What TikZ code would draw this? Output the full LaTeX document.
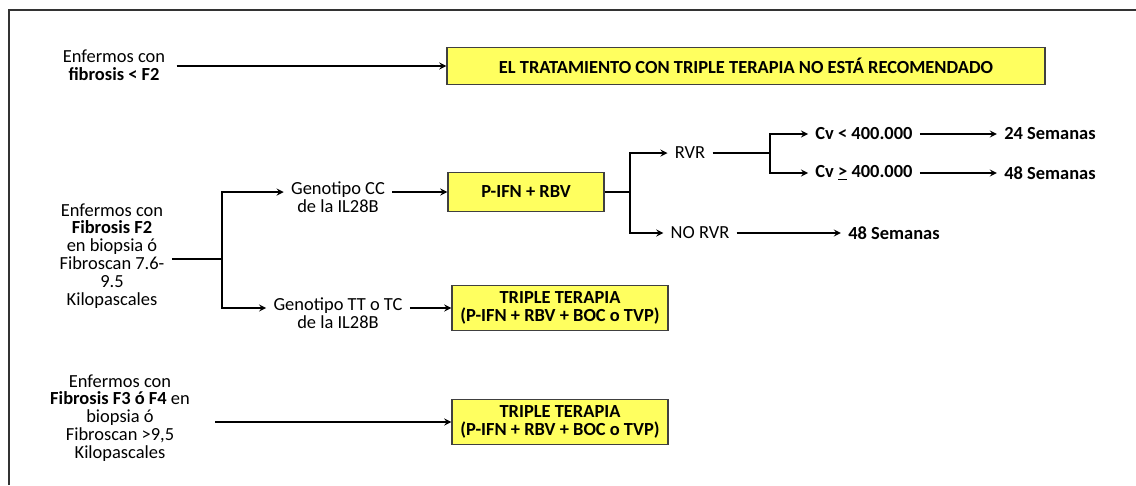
\documentclass[tikz,border=0pt]{standalone}
\usepackage{fontspec}
\setmainfont{Carlito}
\usetikzlibrary{arrows,positioning}

\begin{document}
\begin{tikzpicture}[x=0.02cm, y=-0.02cm,
    txt/.style={align=center, font=\fontsize{10.5}{10.2}\selectfont, inner ysep=2pt, inner xsep=4pt},
    bold/.style={txt, font=\fontsize{10.5}{10.2}\selectfont\bfseries},
    box/.style={draw=black!75, thick, fill={rgb,255:red,255;green,255;blue,95}, align=center, font=\fontsize{10.5}{10.5}\selectfont\bfseries},
    arrow/.style={->, >=stealth, thick, color=black},
    line/.style={thick, color=black}]

    \useasboundingbox (0,0) rectangle (1136,485);
    \draw [black!80, thick] (9,485) -- (9,10) -- (1136,10);

    % fibrosis < F2
    \node (f0) [txt] at (114,65) {Enfermos con\\\textbf{fibrosis < F2}};
    \node (noreco) [box, minimum width=11.96cm, minimum height=0.74cm] at (746,66) {EL TRATAMIENTO CON TRIPLE TERAPIA NO ESTÁ RECOMENDADO};

    % fibrosis F2
    \node (f2) [txt] at (112,256) {Enfermos con\\\textbf{Fibrosis F2}\\en biopsia ó\\Fibroscan 7.6-\\9.5\\Kilopascales};
    \node (gcc) [txt] at (338,197) {Genotipo CC\\de la IL28B};
    \node (gtt) [txt] at (338,313) {Genotipo TT o TC\\de la IL28B};
    \node (pr) [box, minimum width=3.12cm, minimum height=0.78cm] at (526,192) {P-IFN + RBV};
    \node (tt1) [box, minimum width=4.32cm, minimum height=0.84cm] at (560,308) {TRIPLE TERAPIA\\(P-IFN + RBV + BOC o TVP)};
    \node (rvr) [txt] at (690,153) {RVR};
    \node (norvr) [txt] at (700,233) {NO RVR};
    \node (cv1) [bold] at (864,134) {Cv < 400.000};
    \node (cv2) [bold] at (864,173) {Cv \underline{>} 400.000};
    \node (s24) [bold] at (1050,134) {24 Semanas};
    \node (s48a) [bold] at (1050,173) {48 Semanas};
    \node (s48b) [bold] at (894,233) {48 Semanas};

    % fibrosis F3-F4
    \node (f34) [txt] at (120,418) {Enfermos con\\\textbf{Fibrosis F3 ó F4} en\\biopsia ó\\Fibroscan >9,5\\Kilopascales};
    \node (tt2) [box, minimum width=4.32cm, minimum height=0.84cm] at (560,422) {TRIPLE TERAPIA\\(P-IFN + RBV + BOC o TVP)};

    \coordinate (sa) at (222,259);
    \coordinate (sb) at (630,192);
    \coordinate (sc) at (770,153);

    \draw [arrow] (f0.east |- noreco) ++(4,0) -- (noreco);
    \draw [line] (f2.east |- sa) -- (sa);
    \draw [arrow] (sa) |- (gcc.west |- pr);
    \draw [arrow] (sa) |- (gtt.west |- tt1);
    \draw [arrow] (gcc.east |- pr) -- (pr);
    \draw [arrow] (gtt.east |- tt1) -- (tt1);
    \draw [line] (pr) -- (sb);
    \draw [arrow] (sb) |- (rvr);
    \draw [arrow] (sb) |- (norvr);
    \draw [line] (rvr) -- (sc);
    \draw [arrow] (sc) |- (cv1);
    \draw [arrow] (sc) |- (cv2);
    \draw [arrow] (cv1) -- (s24);
    \draw [arrow] (cv2) -- (s48a);
    \draw [arrow] (norvr) -- (s48b);
    \draw [arrow] (f34.east |- tt2) ++(18,0) -- (tt2);
\end{tikzpicture}
\end{document}
